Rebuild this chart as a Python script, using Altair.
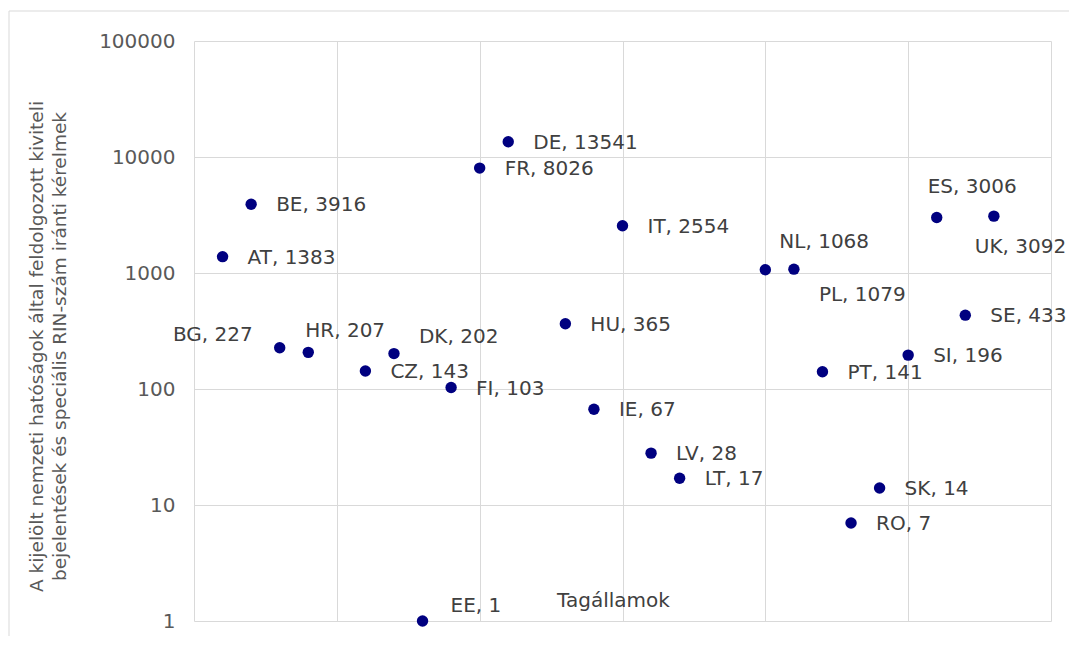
import altair as alt
import pandas as pd

countries = ["AT", "BE", "BG", "HR", "CZ", "DK", "EE", "FI", "FR", "DE", "HU", "IE",
             "IT", "LV", "LT", "NL", "PL", "PT", "RO", "SK", "SI", "ES", "SE", "UK"]
positions = [1, 2, 3, 4, 6, 7, 8, 9, 10, 11, 13, 14,
             15, 16, 17, 20, 21, 22, 23, 24, 25, 26, 27, 28]
requests = [1383, 3916, 227, 207, 143, 202, 1, 103, 8026, 13541, 365, 67,
            2554, 28, 17, 1068, 1079, 141, 7, 14, 196, 3006, 433, 3092]

y_ticks = [1, 10, 100, 1000, 10000, 100000]
x_grid = [0, 5, 10, 15, 20, 25, 30]

y_title = ["A kijelölt nemzeti hatóságok által feldolgozott kiviteli",
           "bejelentések és speciális RIN-szám iránti kérelmek"]
x_title = "Tagállamok"

df = pd.DataFrame({"country": countries, "pos": positions, "value": requests})

# label placement (style): country -> (align, dx, dy)
special = {
    "BG": ("right", -27, -13),
    "HR": ("left", -3, -21),
    "DK": ("left", 25, -17),
    "EE": ("left", 28, -15),
    "ES": ("left", -9, -31),
    "UK": ("left", -19, 31),
    "NL": ("left", 14, -28),
    "PL": ("left", 25, 26),
}

FONT = "DejaVu Sans"

x_enc = alt.X("pos:Q",
              scale=alt.Scale(domain=[0, 30], nice=False, zero=False),
              axis=alt.Axis(values=x_grid, labels=False, ticks=False, domain=False,
                            grid=True, gridColor="#d9d9d9", title=x_title,
                            titleFont=FONT, titleFontSize=20, titleFontWeight="normal",
                            titleColor="#404040", titleX=419, titleY=-21,
                            titleAlign="center", titleBaseline="middle", titleAngle=0))
y_enc = alt.Y("value:Q",
              scale=alt.Scale(type="log", domain=[1, 100000], nice=False),
              axis=alt.Axis(values=y_ticks, format="d", ticks=False, domain=False,
                            grid=True, gridColor="#d9d9d9", labelPadding=19,
                            labelFont=FONT, labelFontSize=20, labelColor="#595959",
                            title=y_title, titleFont=FONT, titleFontSize=18.5,
                            titleFontWeight="normal", titleColor="#595959",
                            titleAngle=-90, titleX=-167, titleY=305,
                            titleAlign="center", titleBaseline="top",
                            titleLineHeight=23))

base = alt.Chart(df).transform_calculate(
    label="datum.country + ', ' + datum.value"
)

frame = alt.Chart(pd.DataFrame({"a": [0]})).mark_rect(
    fill=None, stroke="#d9d9d9", strokeWidth=1
).encode(x=alt.value(-185), x2=alt.value(950), y=alt.value(-30), y2=alt.value(700))

points = base.mark_circle(size=130, color="#000080", opacity=1).encode(x=x_enc, y=y_enc)

text_style = dict(baseline="middle", fontSize=20, font=FONT, color="#404040")

default_labels = base.transform_filter(
    ~alt.FieldOneOfPredicate(field="country", oneOf=list(special.keys()))
).mark_text(align="left", dx=25, dy=1, **text_style).encode(
    x="pos:Q", y="value:Q", text="label:N")

layers = [frame, points, default_labels]
for c, (al, dx, dy) in special.items():
    layers.append(
        base.transform_filter(alt.datum.country == c)
        .mark_text(align=al, dx=dx, dy=dy, **text_style)
        .encode(x="pos:Q", y="value:Q", text="label:N")
    )

chart = alt.layer(*layers).properties(
    width=857, height=580,
    autosize=alt.AutoSizeParams(type="none"),
    padding={"left": 186, "top": 33, "right": 18, "bottom": 15},
).configure_view(strokeWidth=0)

chart.save("out.html", embed_options={"renderer": "svg", "actions": False})
